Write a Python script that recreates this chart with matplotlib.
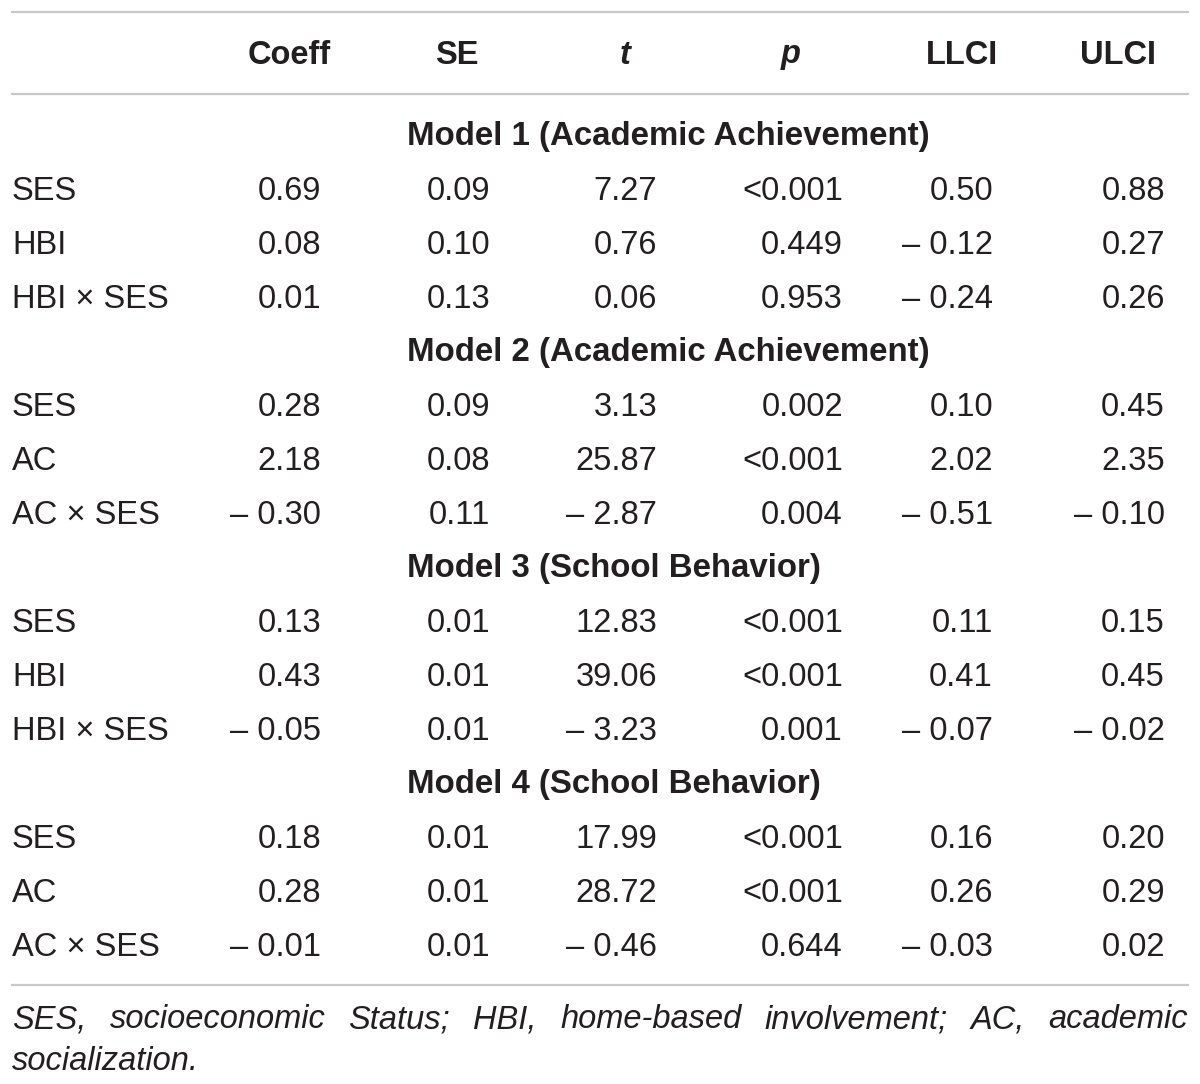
import matplotlib
matplotlib.use("Agg")
import matplotlib.pyplot as plt

# table content
columns = ["Coeff", "SE", "t", "p", "LLCI", "ULCI"]
italic_cols = ["t", "p"]

models = [
    "Model 1 (Academic Achievement)",
    "Model 2 (Academic Achievement)",
    "Model 3 (School Behavior)",
    "Model 4 (School Behavior)",
]

row_labels = [
    ["SES", "HBI", "HBI \u00d7 SES"],
    ["SES", "AC", "AC \u00d7 SES"],
    ["SES", "HBI", "HBI \u00d7 SES"],
    ["SES", "AC", "AC \u00d7 SES"],
]

coeff = [["0.69", "0.08", "0.01"], ["0.28", "2.18", "\u2013 0.30"],
         ["0.13", "0.43", "\u2013 0.05"], ["0.18", "0.28", "\u2013 0.01"]]
se = [["0.09", "0.10", "0.13"], ["0.09", "0.08", "0.11"],
      ["0.01", "0.01", "0.01"], ["0.01", "0.01", "0.01"]]
t_val = [["7.27", "0.76", "0.06"], ["3.13", "25.87", "\u2013 2.87"],
         ["12.83", "39.06", "\u2013 3.23"], ["17.99", "28.72", "\u2013 0.46"]]
p_val = [["<0.001", "0.449", "0.953"], ["0.002", "<0.001", "0.004"],
         ["<0.001", "<0.001", "0.001"], ["<0.001", "<0.001", "0.644"]]
llci = [["0.50", "\u2013 0.12", "\u2013 0.24"], ["0.10", "2.02", "\u2013 0.51"],
        ["0.11", "0.41", "\u2013 0.07"], ["0.16", "0.26", "\u2013 0.03"]]
ulci = [["0.88", "0.27", "0.26"], ["0.45", "2.35", "\u2013 0.10"],
        ["0.15", "0.45", "\u2013 0.02"], ["0.20", "0.29", "0.02"]]

footnote = ("SES, socioeconomic Status; HBI, home-based involvement; AC, academic",
            "socialization.")

# layout (pixels)
W, H = 1200, 1084
left, right = 12, 1188
head_x = [289, 457, 625, 791, 962, 1118]
num_x = [321, 490, 657, 843, 993, 1165]
model_x = 407
head_y = 55
first_row_y = 137
step = 54
fs = 23.5
txt = "#231f20"
rule = "#c8c8c8"
font = "Liberation Sans"

fig = plt.figure(figsize=(W / 100, H / 100), dpi=100)
ax = fig.add_axes([0, 0, 1, 1])
ax.set_xlim(0, W)
ax.set_ylim(H, 0)
ax.axis("off")

# rules
ax.plot([left, right], [12, 12], color=rule, lw=1.6)
ax.plot([left, right], [94, 94], color=rule, lw=1.6)

for x, c in zip(head_x, columns):
    ax.text(x, head_y, c, ha="center", va="center", fontsize=fs, family=font,
            weight="bold", style="italic" if c in italic_cols else "normal",
            color=txt)

values = [coeff, se, t_val, p_val, llci, ulci]
i = 0
for m, name in enumerate(models):
    y = first_row_y + i * step
    ax.text(model_x, y, name, ha="left", va="center", fontsize=fs + 0.3,
            family=font, weight="bold", color=txt)
    i += 1
    for r, lab in enumerate(row_labels[m]):
        y = first_row_y + i * step
        ax.text(left, y, lab, ha="left", va="center", fontsize=fs,
                family=font, color=txt)
        for x, col in zip(num_x, values):
            ax.text(x, y, col[m][r], ha="right", va="center", fontsize=fs,
                    family=font, color=txt)
        i += 1

bottom_rule = first_row_y + (i - 1) * step + 38
ax.plot([left, right], [bottom_rule, bottom_rule], color=rule, lw=1.6)

# footnote, first line justified
fig.canvas.draw()
renderer = fig.canvas.get_renderer()
words = footnote[0].split(" ")
y1 = bottom_rule + 35
arts = [ax.text(0, y1, w, ha="left", va="center", fontsize=fs, family=font,
                style="italic", color=txt) for w in words]
widths = [a.get_window_extent(renderer).width for a in arts]
gap = (right - left - sum(widths)) / (len(words) - 1)
x = left
for a, w in zip(arts, widths):
    a.set_x(x)
    x += w + gap
ax.text(left, y1 + 42, footnote[1], ha="left", va="center", fontsize=fs,
        family=font, style="italic", color=txt)

fig.savefig("out.png", dpi=100)
